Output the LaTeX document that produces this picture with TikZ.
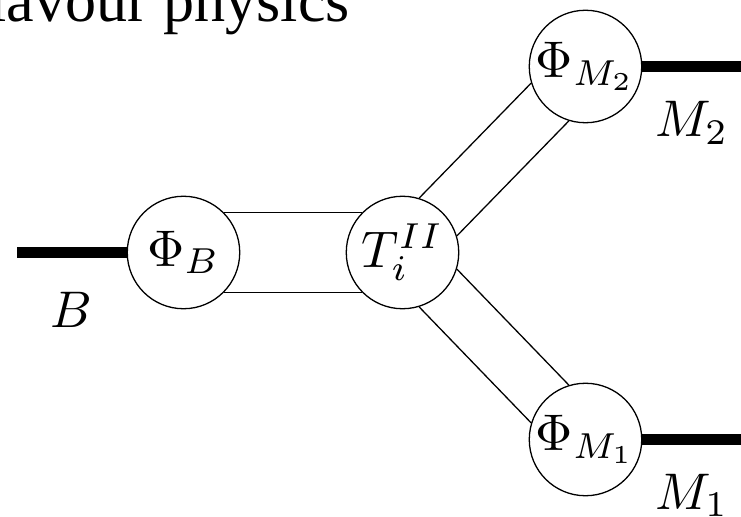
\documentclass[tikz,border=0pt]{standalone}
\usepackage{graphicx}
\usepackage{fontspec}
\newfontfamily\titlefont{Liberation Serif}
\newcommand\Fmath[1]{\scalebox{4.4}{$#1$}}
\tikzset{Fblob/.style={circle,draw,fill=white,line width=1.1pt,inner sep=0pt,minimum size=96pt},
         Fleg/.style={line width=10pt},
         Fline/.style={line width=1.1pt},
         Flab/.style={inner sep=0pt}}

\begin{document}
\begin{tikzpicture}[x=0.03cm,y=-0.03cm]
  \useasboundingbox (0,0) rectangle (741,517);
  \clip (0,0) rectangle (741,517);
  \node[font=\titlefont\fontsize{53}{60}\selectfont,anchor=base east,inner sep=0pt] (title) at (350,21.5) {flavour physics};
  \node[Fblob] (phiB) at (183.5,252.5) {\Fmath{\Phi_B}};
  \node[Fblob] (T) at (402.5,252.5) {\Fmath{T_i^{II}}};
  \node[Fblob] (phiM2) at (585.5,66.5) {\Fmath{\Phi_{M_2}}};
  \node[Fblob] (phiM1) at (585.5,439.5) {\Fmath{\Phi_{M_1}}};
  \coordinate (Bin) at (17,252.5);
  \coordinate (M2out) at (741,66.5);
  \coordinate (M1out) at (741,439.5);
  \draw[Fleg] (Bin) -- (phiB);
  \draw[Fleg] (phiM2) -- (M2out);
  \draw[Fleg] (phiM1) -- (M1out);
  \draw[Fline] (phiB.45) -- (T.135);
  \draw[Fline] (phiB.-45) -- (T.-135);
  \draw[Fline] (T.73) -- (phiM2.197);
  \draw[Fline] (T.17) -- (phiM2.253);
  \draw[Fline] (T.-17) -- (phiM1.107);
  \draw[Fline] (T.-73) -- (phiM1.163);
  \node[Flab,anchor=base west] (labB) at (50,327) {\Fmath{B}};
  \node[Flab,anchor=base west] (labM2) at (655,137) {\Fmath{M_2}};
  \node[Flab,anchor=base west] (labM1) at (655,509) {\Fmath{M_1}};
\end{tikzpicture}
\end{document}
